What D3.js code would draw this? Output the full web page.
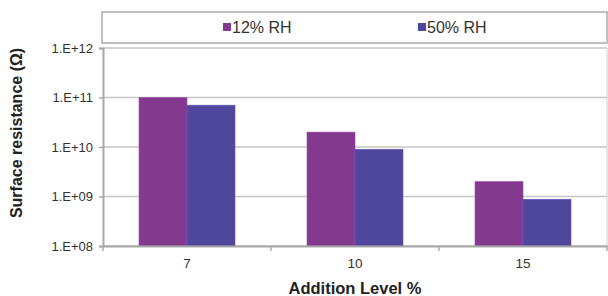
<!DOCTYPE html>
<html>
<head>
<meta charset="utf-8">
<script src="https://cdn.jsdelivr.net/npm/d3@7"></script>
<style>
  body { margin: 0; background: #fff; }
  svg { display: block; font-family: "Liberation Sans", Arial, sans-serif; }
  .tick text { fill: #333; }
</style>
</head>
<body>
<svg id="chart" width="608" height="296"></svg>
<script>
const categories = ['7', '10', '15'];
const seriesNames = ['12% RH', '50% RH'];
const rh12 = [1e11, 2e10, 2e9];
const rh50 = [7e10, 9e9, 8.8e8];
const yTicks = [1e8, 1e9, 1e10, 1e11, 1e12];
const yTickLabels = ['1.E+08', '1.E+09', '1.E+10', '1.E+11', '1.E+12'];

const COLORS = ['#833a8e', '#4e479b'];
const MARGIN = { top: 48, right: 1, bottom: 50, left: 103 };
const W = 608, H = 296;
const width = W - MARGIN.left - MARGIN.right;
const height = H - MARGIN.top - MARGIN.bottom;

const svg = d3.select('#chart');

const x0 = d3.scaleBand()
  .domain(categories)
  .range([0, width])
  .paddingInner(72 / 168)
  .paddingOuter(36 / 168);

const x1 = d3.scaleBand()
  .domain(seriesNames)
  .range([0, x0.bandwidth()]);

const y = d3.scaleLog()
  .domain([1e8, 1e12])
  .range([height, 0]);

const g = svg.append('g').attr('transform', `translate(${MARGIN.left},${MARGIN.top})`);

// gridlines
g.append('g')
  .selectAll('line')
  .data(yTicks)
  .join('line')
  .attr('x1', 0)
  .attr('x2', width)
  .attr('y1', d => y(d))
  .attr('y2', d => y(d))
  .attr('stroke', '#c6c6c6')
  .attr('stroke-width', 1.5);

// right border of plot area
g.append('line')
  .attr('x1', width).attr('x2', width)
  .attr('y1', 0).attr('y2', height)
  .attr('stroke', '#d0d0d0')
  .attr('stroke-width', 1);

// bars
const data = categories.map((c, i) => ({ cat: c, vals: [rh12[i], rh50[i]] }));
const groups = g.append('g')
  .selectAll('g')
  .data(data)
  .join('g')
  .attr('transform', d => `translate(${x0(d.cat)},0)`);

groups.selectAll('rect')
  .data(d => d.vals.map((v, j) => ({ name: seriesNames[j], v, j })))
  .join('rect')
  .attr('x', d => x1(d.name))
  .attr('width', x1.bandwidth())
  .attr('y', d => y(d.v))
  .attr('height', d => height - y(d.v))
  .attr('fill', d => COLORS[d.j])
  .attr('stroke', d => d3.color(COLORS[d.j]).brighter(0.6))
  .attr('stroke-width', 0.6);

// y axis
const axisY = d3.axisLeft(y)
  .tickValues(yTicks)
  .tickFormat((d, i) => yTickLabels[i])
  .tickSize(4)
  .tickPadding(6);

const gy = g.append('g').call(axisY);
gy.select('.domain').attr('stroke', '#a8a8a8').attr('stroke-width', 2);
gy.selectAll('.tick line').attr('stroke', '#a8a8a8').attr('stroke-width', 1.5);
gy.selectAll('.tick text')
  .attr('font-size', 13)
  .attr('font-family', '"Liberation Sans", Arial, sans-serif');

// x axis
const axisX = d3.axisBottom(x0).tickSize(0).tickPadding(12);
const gx = g.append('g')
  .attr('transform', `translate(0,${height})`)
  .call(axisX);
gx.select('.domain').attr('stroke', '#a8a8a8').attr('stroke-width', 2);
gx.selectAll('.tick text')
  .attr('font-size', 13.5)
  .attr('font-family', '"Liberation Sans", Arial, sans-serif');

// category separator ticks
const sepTicks = d3.range(categories.length + 1).map(i => i * x0.step());
gx.append('g')
  .selectAll('line')
  .data(sepTicks)
  .join('line')
  .attr('x1', d => d).attr('x2', d => d)
  .attr('y1', 0).attr('y2', 5)
  .attr('stroke', '#a8a8a8')
  .attr('stroke-width', 1.5);

// axis titles
svg.append('text')
  .text('Addition Level %')
  .attr('x', MARGIN.left + width / 2)
  .attr('y', 294)
  .attr('text-anchor', 'middle')
  .attr('font-size', 16.5)
  .attr('font-weight', 'bold')
  .attr('fill', '#222');

svg.append('text')
  .text('Surface resistance (Ω)')
  .attr('transform', `translate(22,133) rotate(-90)`)
  .attr('text-anchor', 'middle')
  .attr('font-size', 16)
  .attr('font-weight', 'bold')
  .attr('fill', '#222');

// legend
const legend = svg.append('g');
legend.append('rect')
  .attr('x', 102)
  .attr('y', 12)
  .attr('width', 505)
  .attr('height', 31)
  .attr('fill', '#fff')
  .attr('stroke', '#c0c0c0')
  .attr('stroke-width', 2);

const legendX = [223, 418];
const items = legend.selectAll('g.item')
  .data(seriesNames)
  .join('g')
  .attr('class', 'item')
  .attr('transform', (d, i) => `translate(${legendX[i]},27)`);

items.append('rect')
  .attr('x', 0)
  .attr('y', -4)
  .attr('width', 8)
  .attr('height', 8)
  .attr('fill', (d, i) => COLORS[i]);

items.append('text')
  .text(d => d)
  .attr('x', 9)
  .attr('y', 6)
  .attr('font-size', 16)
  .attr('fill', '#333');
</script>
</body>
</html>
